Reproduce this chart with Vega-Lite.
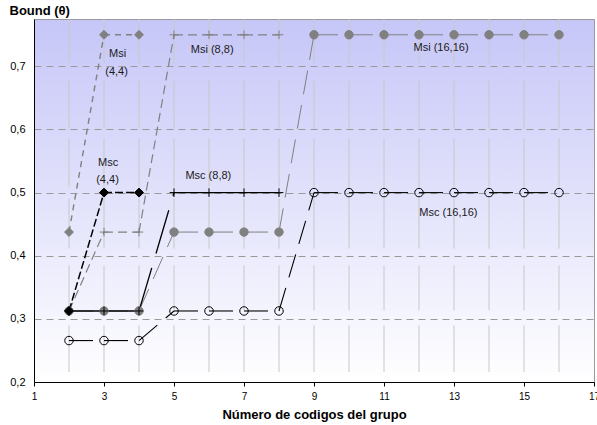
{
  "$schema": "https://vega.github.io/schema/vega-lite/v6.json",
  "width": 560,
  "height": 363,
  "autosize": {"type": "none"},
  "padding": {"left": 34, "top": 19, "right": 3, "bottom": 43},
  "background": "white",
  "config": {
    "font": "Liberation Sans",
    "view": {
      "stroke": "#999999",
      "strokeWidth": 1,
      "fill": {"gradient": "linear", "x1": 0, "y1": 0, "x2": 0, "y2": 1,
        "stops": [{"offset": 0, "color": "#c6c6f8"}, {"offset": 1, "color": "#ffffff"}]}
    }
  },
  "datasets": {
    "pts": [
      {"series": "Msi (16,16)", "x": 2, "y": 0.3125},
      {"series": "Msi (16,16)", "x": 3, "y": 0.3125},
      {"series": "Msi (16,16)", "x": 4, "y": 0.3125},
      {"series": "Msi (16,16)", "x": 5, "y": 0.4375},
      {"series": "Msi (16,16)", "x": 6, "y": 0.4375},
      {"series": "Msi (16,16)", "x": 7, "y": 0.4375},
      {"series": "Msi (16,16)", "x": 8, "y": 0.4375},
      {"series": "Msi (16,16)", "x": 9, "y": 0.75},
      {"series": "Msi (16,16)", "x": 10, "y": 0.75},
      {"series": "Msi (16,16)", "x": 11, "y": 0.75},
      {"series": "Msi (16,16)", "x": 12, "y": 0.75},
      {"series": "Msi (16,16)", "x": 13, "y": 0.75},
      {"series": "Msi (16,16)", "x": 14, "y": 0.75},
      {"series": "Msi (16,16)", "x": 15, "y": 0.75},
      {"series": "Msi (16,16)", "x": 16, "y": 0.75},
      {"series": "Msc (16,16)", "x": 2, "y": 0.265625},
      {"series": "Msc (16,16)", "x": 3, "y": 0.265625},
      {"series": "Msc (16,16)", "x": 4, "y": 0.265625},
      {"series": "Msc (16,16)", "x": 5, "y": 0.3125},
      {"series": "Msc (16,16)", "x": 6, "y": 0.3125},
      {"series": "Msc (16,16)", "x": 7, "y": 0.3125},
      {"series": "Msc (16,16)", "x": 8, "y": 0.3125},
      {"series": "Msc (16,16)", "x": 9, "y": 0.5},
      {"series": "Msc (16,16)", "x": 10, "y": 0.5},
      {"series": "Msc (16,16)", "x": 11, "y": 0.5},
      {"series": "Msc (16,16)", "x": 12, "y": 0.5},
      {"series": "Msc (16,16)", "x": 13, "y": 0.5},
      {"series": "Msc (16,16)", "x": 14, "y": 0.5},
      {"series": "Msc (16,16)", "x": 15, "y": 0.5},
      {"series": "Msc (16,16)", "x": 16, "y": 0.5},
      {"series": "Msi (8,8)", "x": 2, "y": 0.3125},
      {"series": "Msi (8,8)", "x": 3, "y": 0.4375},
      {"series": "Msi (8,8)", "x": 4, "y": 0.4375},
      {"series": "Msi (8,8)", "x": 5, "y": 0.75},
      {"series": "Msi (8,8)", "x": 6, "y": 0.75},
      {"series": "Msi (8,8)", "x": 7, "y": 0.75},
      {"series": "Msi (8,8)", "x": 8, "y": 0.75},
      {"series": "Msc (8,8)", "x": 2, "y": 0.3125},
      {"series": "Msc (8,8)", "x": 3, "y": 0.3125},
      {"series": "Msc (8,8)", "x": 4, "y": 0.3125},
      {"series": "Msc (8,8)", "x": 5, "y": 0.5},
      {"series": "Msc (8,8)", "x": 6, "y": 0.5},
      {"series": "Msc (8,8)", "x": 7, "y": 0.5},
      {"series": "Msc (8,8)", "x": 8, "y": 0.5},
      {"series": "Msi (4,4)", "x": 2, "y": 0.4375},
      {"series": "Msi (4,4)", "x": 3, "y": 0.75},
      {"series": "Msi (4,4)", "x": 4, "y": 0.75},
      {"series": "Msc (4,4)", "x": 2, "y": 0.3125},
      {"series": "Msc (4,4)", "x": 3, "y": 0.5},
      {"series": "Msc (4,4)", "x": 4, "y": 0.5}
    ],
    "vgrid": [
      {"lo": 0.7043, "hi": 0.775, "xs": [2, 3, 4, 5, 6, 7, 8, 9, 10, 11, 12, 13, 14, 15, 16]},
      {"lo": 0.6013, "hi": 0.6778, "xs": [2, 3, 4, 5, 6, 7, 8, 9, 10, 11, 12, 13, 14, 15, 16]},
      {"lo": 0.5088, "hi": 0.586, "xs": [2, 3, 4, 5, 6, 7, 8, 9, 10, 11, 12, 13, 14, 15, 16]},
      {"lo": 0.4113, "hi": 0.4905, "xs": [2, 3, 4, 5, 6, 7, 8, 9, 10, 11, 12, 13, 14, 15, 16]},
      {"lo": 0.3136, "hi": 0.3848, "xs": [2, 3, 4, 5, 6, 7, 8, 9, 10, 11, 12, 13, 14, 15, 16]},
      {"lo": 0.2158, "hi": 0.2898, "xs": [2, 3, 4, 5, 6, 7, 8, 9, 10, 11, 12, 13, 14, 15, 16]}
    ],
    "labels": [
      {"text": "Msi", "x": 3.39, "y": 0.72},
      {"text": "(4,4)", "x": 3.36, "y": 0.691},
      {"text": "Msc", "x": 3.12, "y": 0.547},
      {"text": "(4,4)", "x": 3.1, "y": 0.5206},
      {"text": "Msi (8,8)", "x": 6.09, "y": 0.7265},
      {"text": "Msc (8,8)", "x": 5.98, "y": 0.5258},
      {"text": "Msi (16,16)", "x": 12.63, "y": 0.729},
      {"text": "Msc (16,16)", "x": 12.84, "y": 0.468}
    ]
  },
  "layer": [
    {
      "data": {"name": "vgrid"},
      "transform": [{"flatten": ["xs"], "as": ["x"]}],
      "mark": {"type": "rule", "color": "#c8c8c8", "strokeWidth": 1},
      "encoding": {
        "x": {
          "field": "x", "type": "quantitative",
          "scale": {"domain": [1, 17], "nice": false, "zero": false},
          "axis": {
            "values": [1, 2, 3, 4, 5, 6, 7, 8, 9, 10, 11, 12, 13, 14, 15, 16, 17],
            "labelExpr": "datum.value % 2 == 1 ? datum.label : ''",
            "grid": false, "tickSize": 4, "tickColor": "#000000", "domainColor": "#000000",
            "labelFontSize": 10, "labelPadding": 5, "labelColor": "#000000",
            "labelFlush": false, "labelOverlap": false,
            "title": "Número de codigos del grupo", "titleFontSize": 13, "titleFontWeight": "bold",
            "titleColor": "#000000", "titleY": 36, "titleBaseline": "alphabetic"
          }
        },
        "y": {
          "field": "lo", "type": "quantitative",
          "scale": {"domain": [0.2, 0.775], "nice": false, "zero": false},
          "axis": {
            "values": [0.2, 0.3, 0.4, 0.5, 0.6, 0.7],
            "labelExpr": "replace(format(datum.value, '.1f'), '.', ',')",
            "grid": true, "gridDash": [7, 5], "gridColor": "#9a9a9a", "gridWidth": 1,
            "ticks": false, "tickSize": 0, "domainColor": "#000000",
            "labelFontSize": 11, "labelPadding": 9, "labelColor": "#000000",
            "title": "Bound (θ)", "titleAngle": 0, "titleAlign": "left", "titleBaseline": "alphabetic",
            "titleX": -25, "titleY": -5, "titleFontSize": 13, "titleFontWeight": "bold", "titleColor": "#000000"
          }
        },
        "y2": {"field": "hi"}
      }
    },
    {
      "data": {"name": "pts"},
      "transform": [
        {"window": [{"op": "lead", "field": "x", "as": "xn"}, {"op": "lead", "field": "y", "as": "yn"}],
         "groupby": ["series"], "sort": [{"field": "x"}]},
        {"filter": "datum.xn != null"}
      ],
      "mark": {"type": "rule"},
      "encoding": {
        "x": {"field": "x", "type": "quantitative"},
        "y": {"field": "y", "type": "quantitative"},
        "x2": {"field": "xn"},
        "y2": {"field": "yn"},
        "stroke": {
          "field": "series", "type": "nominal", "legend": null,
          "scale": {"domain": ["Msc (4,4)", "Msi (4,4)", "Msc (8,8)", "Msi (8,8)", "Msc (16,16)", "Msi (16,16)"],
                    "range": ["#000000", "#808080", "#000000", "#808080", "#000000", "#808080"]}
        },
        "strokeDash": {
          "field": "series", "type": "nominal", "legend": null,
          "scale": {"domain": ["Msc (4,4)", "Msi (4,4)", "Msc (8,8)", "Msi (8,8)", "Msc (16,16)", "Msi (16,16)"],
                    "range": [[8, 3], [6, 5], [45, 15], [9, 5], [24, 11], [24, 11]]}
        },
        "strokeWidth": {
          "field": "series", "type": "nominal", "legend": null,
          "scale": {"domain": ["Msc (4,4)", "Msi (4,4)", "Msc (8,8)", "Msi (8,8)", "Msc (16,16)", "Msi (16,16)"],
                    "range": [1.5, 1, 1.5, 1.6, 1, 1]}
        }
      }
    },
    {
      "data": {"name": "pts"},
      "mark": {"type": "point", "strokeWidth": 1, "opacity": 1},
      "encoding": {
        "x": {"field": "x", "type": "quantitative"},
        "y": {"field": "y", "type": "quantitative"},
        "shape": {
          "field": "series", "type": "nominal", "legend": null,
          "scale": {"domain": ["Msc (4,4)", "Msi (4,4)", "Msc (8,8)", "Msi (8,8)", "Msc (16,16)", "Msi (16,16)"],
                    "range": ["diamond", "diamond", "M-1,0L1,0M0,-1L0,1", "M-1,0L1,0M0,-1L0,1", "circle", "circle"]}
        },
        "fill": {
          "field": "series", "type": "nominal", "legend": null,
          "scale": {"domain": ["Msc (4,4)", "Msi (4,4)", "Msc (8,8)", "Msi (8,8)", "Msc (16,16)", "Msi (16,16)"],
                    "range": ["#000000", "#808080", "transparent", "transparent", "transparent", "#808080"]}
        },
        "stroke": {
          "field": "series", "type": "nominal", "legend": null,
          "scale": {"domain": ["Msc (4,4)", "Msi (4,4)", "Msc (8,8)", "Msi (8,8)", "Msc (16,16)", "Msi (16,16)"],
                    "range": ["#000000", "#808080", "#000000", "#808080", "#000000", "#808080"]}
        },
        "size": {
          "field": "series", "type": "nominal", "legend": null,
          "scale": {"domain": ["Msc (4,4)", "Msi (4,4)", "Msc (8,8)", "Msi (8,8)", "Msc (16,16)", "Msi (16,16)"],
                    "range": [81, 70, 72, 72, 64, 70]}
        }
      }
    },
    {
      "data": {"name": "labels"},
      "mark": {"type": "text", "fontSize": 11, "color": "#1a1a1a", "align": "center", "baseline": "middle"},
      "encoding": {
        "x": {"field": "x", "type": "quantitative"},
        "y": {"field": "y", "type": "quantitative"},
        "text": {"field": "text"}
      }
    }
  ]
}
